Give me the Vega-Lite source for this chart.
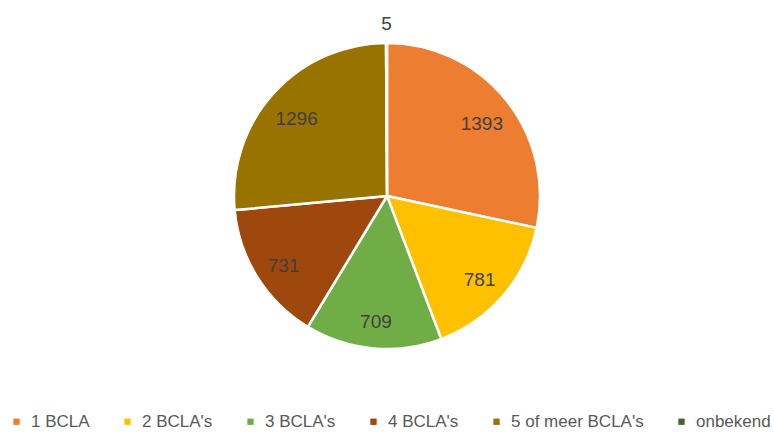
{
  "$schema": "https://vega.github.io/schema/vega-lite/v6.json",
  "width": 774,
  "height": 392,
  "padding": {"left": 0, "top": 0, "right": 0, "bottom": 42},
  "autosize": {"type": "none"},
  "background": "white",
  "config": {"view": {"stroke": null}},
  "data": {
    "values": [
      {"cat": "1 BCLA", "value": 1393},
      {"cat": "2 BCLA's", "value": 781},
      {"cat": "3 BCLA's", "value": 709},
      {"cat": "4 BCLA's", "value": 731},
      {"cat": "5 of meer BCLA's", "value": 1296},
      {"cat": "onbekend", "value": 5}
    ]
  },
  "encoding": {
    "theta": {"field": "value", "type": "quantitative", "stack": true},
    "order": {"field": "cat", "type": "ordinal", "sort": "ascending"},
    "color": {
      "field": "cat",
      "type": "nominal",
      "scale": {
        "domain": ["1 BCLA", "2 BCLA's", "3 BCLA's", "4 BCLA's", "5 of meer BCLA's", "onbekend"],
        "range": ["#ED7D31", "#FFC000", "#70AD47", "#9E480E", "#997300", "#43682B"]
      },
      "legend": {
        "title": null,
        "orient": "none",
        "direction": "horizontal",
        "legendX": 8,
        "legendY": 413,
        "symbolType": "square",
        "symbolSize": 40,
        "symbolStrokeWidth": 0,
        "symbolOpacity": 1,
        "labelFont": "Liberation Sans",
        "labelFontSize": 17,
        "labelColor": "#595959",
        "labelOffset": 6,
        "columnPadding": 29,
        "labelLimit": 300
      }
    }
  },
  "layer": [
    {
      "mark": {"type": "arc", "outerRadius": 153, "stroke": "white", "strokeWidth": 2.5}
    },
    {
      "mark": {"type": "text", "radius": 122, "dy": 5, "font": "Liberation Sans", "fontSize": 19, "fill": "#404040"},
      "encoding": {
        "text": {"field": "value", "type": "quantitative"},
        "color": {"value": "#404040"},
        "opacity": {"condition": {"test": "datum.cat === 'onbekend'", "value": 0}, "value": 1}
      }
    },
    {
      "mark": {"type": "text", "radius": 172, "font": "Liberation Sans", "fontSize": 19, "fill": "#404040"},
      "encoding": {
        "text": {"field": "value", "type": "quantitative"},
        "color": {"value": "#404040"},
        "opacity": {"condition": {"test": "datum.cat === 'onbekend'", "value": 1}, "value": 0}
      }
    }
  ]
}
